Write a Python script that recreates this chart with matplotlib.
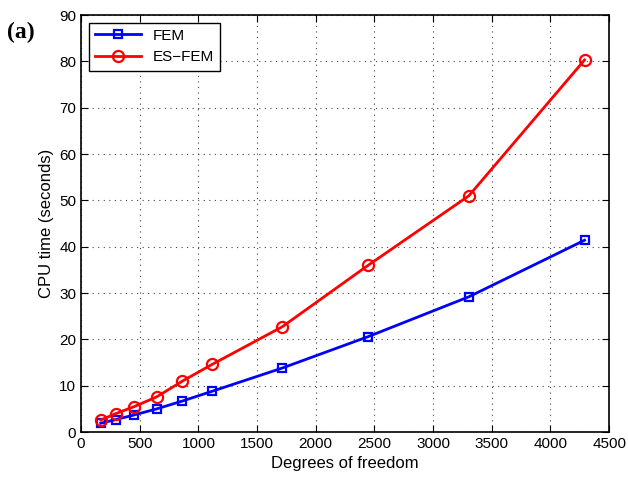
import matplotlib
matplotlib.use("Agg")
import matplotlib.pyplot as plt

dof = [168, 298, 454, 645, 864, 1117, 1713, 2447, 3305, 4290]
fem = [1.9, 2.7, 3.7, 5.0, 6.7, 8.8, 13.8, 20.6, 29.2, 41.4]
esfem = [2.6, 4.0, 5.5, 7.6, 11.0, 14.6, 22.7, 36.0, 51.0, 80.3]

plt.rcParams['font.family'] = ['Liberation Sans', 'DejaVu Sans']

fig = plt.figure(figsize=(6.28, 4.86), dpi=100)
ax = fig.add_axes([0.129, 0.111, 0.841, 0.858])

ax.plot(dof, fem, color='blue', lw=2, marker='s', ms=6, mfc='none', mec='blue', mew=1.6, label='FEM')
ax.plot(dof, esfem, color='red', lw=2, marker='o', ms=8, mfc='none', mec='red', mew=1.6, label='ES\u2212FEM')

ax.set_xlim(0, 4500)
ax.set_ylim(0, 90)
ax.set_xticks(range(0, 4501, 500))
ax.set_yticks(range(0, 91, 10))
ax.tick_params(direction='in', labelsize=11, top=True, right=True, length=5)
ax.grid(True, linestyle=(0, (1, 4)), color='#444444', lw=0.8)
for s in ax.spines.values():
    s.set_linewidth(1.2)

ax.set_xlabel('Degrees of freedom', fontsize=12)
ax.set_ylabel('CPU time (seconds)', fontsize=12)

leg = ax.legend(loc='upper left', fontsize=11, fancybox=False, edgecolor='black',
                framealpha=1, handlelength=3, borderaxespad=0.5)
leg.get_frame().set_linewidth(1.0)

fig.text(0.011, 0.922, '(a)', fontsize=17, fontweight='bold', family='Liberation Serif')

fig.savefig('out.png', dpi=100)
